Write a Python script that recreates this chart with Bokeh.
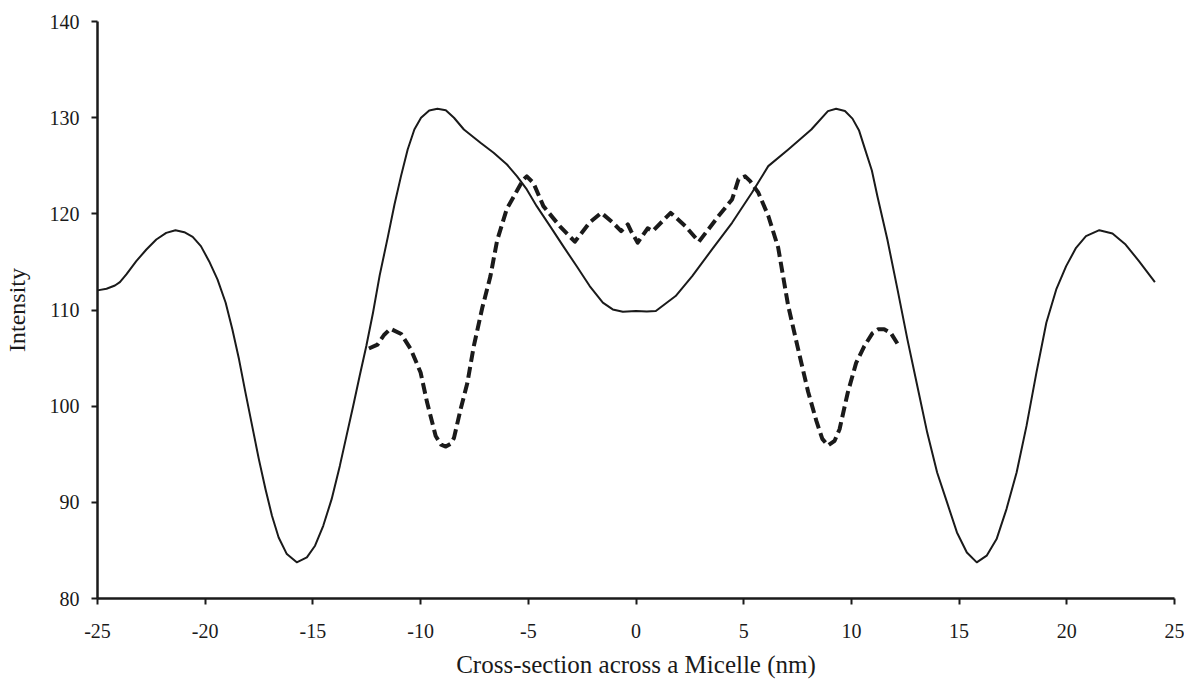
from bokeh.plotting import figure
from bokeh.embed import file_html
from bokeh.resources import INLINE
from bokeh.models import Range1d, FixedTicker, CustomJSTickFormatter

# Solid curve (x in nm, intensity)
solid_x = [-25.0, -24.58, -24.19, -23.96, -23.66, -23.2, -22.73, -22.27, -21.81, -21.38, -20.97,
           -20.58, -20.2, -19.82, -19.43, -19.05, -18.74, -18.43, -18.13, -17.82, -17.51, -17.2,
           -16.9, -16.59, -16.21, -15.75, -15.28, -14.9, -14.52, -14.13, -13.75, -13.44, -13.13,
           -12.83, -12.52, -12.21, -11.9, -11.52, -11.21, -10.91, -10.6, -10.29, -9.98, -9.6,
           -9.22, -8.83, -8.45, -7.99, -7.22, -6.61, -5.99, -5.53, -5.07, -4.61, -3.99, -3.38,
           -2.76, -2.15, -1.54, -1.08, -0.61, 0.0,
           0.5, 0.92, 1.84, 2.61, 3.53, 4.46, 5.38, 6.14, 7.07, 8.14, 8.91, 9.29, 9.7, 10.05,
           10.35, 10.65, 10.95, 11.21, 11.67, 12.14, 12.6, 13.06, 13.52, 13.98, 14.44, 14.9,
           15.36, 15.82, 16.28, 16.74, 17.2, 17.67, 18.13, 18.59, 19.05, 19.51, 19.97, 20.43,
           20.89, 21.51, 22.12, 22.73, 23.35, 24.09]
solid_y = [112.04, 112.21, 112.55, 112.9, 113.7, 115.08, 116.29, 117.33, 118.02, 118.3, 118.09,
           117.61, 116.64, 115.08, 113.18, 110.75, 107.99, 104.87, 101.41, 97.95, 94.49, 91.37,
           88.6, 86.35, 84.62, 83.76, 84.28, 85.49, 87.56, 90.33, 93.79, 96.91, 100.02,
           103.14, 106.25, 109.72, 113.6, 117.6, 121.0, 123.92, 126.69, 128.77, 129.99, 130.75,
           130.92, 130.78, 129.99, 128.77, 127.39, 126.35, 125.13, 123.92, 122.54, 120.8, 118.72, 116.64,
           114.57, 112.49, 110.76, 110.06, 109.82, 109.89,
           109.85, 109.89, 111.45, 113.53, 116.3, 119.07, 122.19, 124.96, 126.69, 128.77, 130.68, 130.92, 130.7, 129.9,
           128.7, 126.6, 124.5, 121.8, 117.33, 112.14, 106.95, 102.1, 97.25, 93.1, 89.99, 86.87,
           84.79, 83.76, 84.45, 86.18, 89.3, 93.1, 97.95, 103.49, 108.68, 112.14, 114.56, 116.47,
           117.68, 118.3, 117.95, 116.81, 115.08, 112.9]

# Dashed curve
dash_x = [-12.4, -12.0, -11.7, -11.4, -10.9, -10.45, -10.0, -9.7, -9.3, -9.05, -8.83, -8.6, -8.45,
          -8.14, -7.83, -7.53, -7.14, -6.76, -6.45, -6.0, -5.5, -5.25, -5.07, -4.76, -4.3, -3.53,
          -2.84, -2.15, -1.61, -1.08, -0.69, -0.38, -0.23, 0.08, 0.54, 0.77, 1.61, 2.30, 2.92,
          3.84, 4.46, 4.76, 5.07, 5.3, 5.68, 6.14, 6.6, 7.06, 7.53, 7.99, 8.37, 8.65, 8.91, 9.22,
          9.45, 9.83, 10.22, 10.6, 10.98, 11.25, 11.52, 11.83, 12.21]
dash_y = [106.0, 106.4, 107.4, 108.05, 107.5, 105.9, 103.5, 100.4, 96.9, 96.0, 95.8, 96.1, 96.7,
          99.7, 102.4, 106.25, 110.2, 113.5, 117.2, 120.5, 122.5, 123.5, 123.9, 123.2, 120.8, 118.7,
          117.1, 119.1, 120.1, 119.1, 118.2, 118.9, 118.2, 117.0, 118.5, 118.2, 120.1, 118.7, 117.1,
          119.8, 121.5, 123.6, 123.9, 123.4, 122.2, 119.8, 116.5, 110.5, 105.9, 101.5, 98.5, 96.6, 95.9, 96.4,
          97.6, 101.4, 104.5, 106.25, 107.6, 108.0, 108.0, 107.6, 106.25]

x_ticks = [-25, -20, -15, -10, -5, 0, 5, 10, 15, 20, 25]
y_ticks = [80, 90, 100, 110, 120, 130, 140]

FONT = "Liberation Serif"
INK = "#1a1a1a"

p = figure(width=1184, height=680, output_backend="svg", toolbar_location=None,
           x_range=Range1d(-25, 25), y_range=Range1d(80, 140),
           min_border_left=89, min_border_right=10, min_border_top=21, min_border_bottom=82)
p.outline_line_color = None
p.xgrid.visible = False
p.ygrid.visible = False
p.background_fill_color = "white"
p.border_fill_color = "white"

p.line(solid_x, solid_y, line_color=INK, line_width=2, line_join="round")
p.line(dash_x, dash_y, line_color=INK, line_width=4, line_dash="11 5", line_join="round")

for ax in (p.xaxis[0], p.yaxis[0]):
    ax.axis_line_color = INK
    ax.axis_line_width = 2.5
    ax.major_tick_line_color = INK
    ax.major_tick_line_width = 2
    ax.major_tick_out = 6
    ax.major_tick_in = 0
    ax.minor_tick_line_color = None
    ax.major_label_text_font = FONT
    ax.major_label_text_font_size = "20px"
    ax.major_label_text_color = INK
    ax.axis_label_text_font = FONT
    ax.axis_label_text_font_style = "normal"
    ax.axis_label_text_color = INK
    ax.formatter = CustomJSTickFormatter(code="return String(tick);")

p.xaxis.ticker = FixedTicker(ticks=x_ticks)
p.yaxis.ticker = FixedTicker(ticks=y_ticks)
p.xaxis.axis_label = "Cross-section across a Micelle (nm)"
p.yaxis.axis_label = "Intensity"
p.xaxis.axis_label_text_font_size = "25px"
p.yaxis.axis_label_text_font_size = "24px"
p.xaxis.major_label_standoff = 19
p.yaxis.major_label_standoff = 12
p.xaxis.axis_label_standoff = 10
p.yaxis.axis_label_standoff = 17

open("out.html", "w").write(file_html(p, INLINE))
